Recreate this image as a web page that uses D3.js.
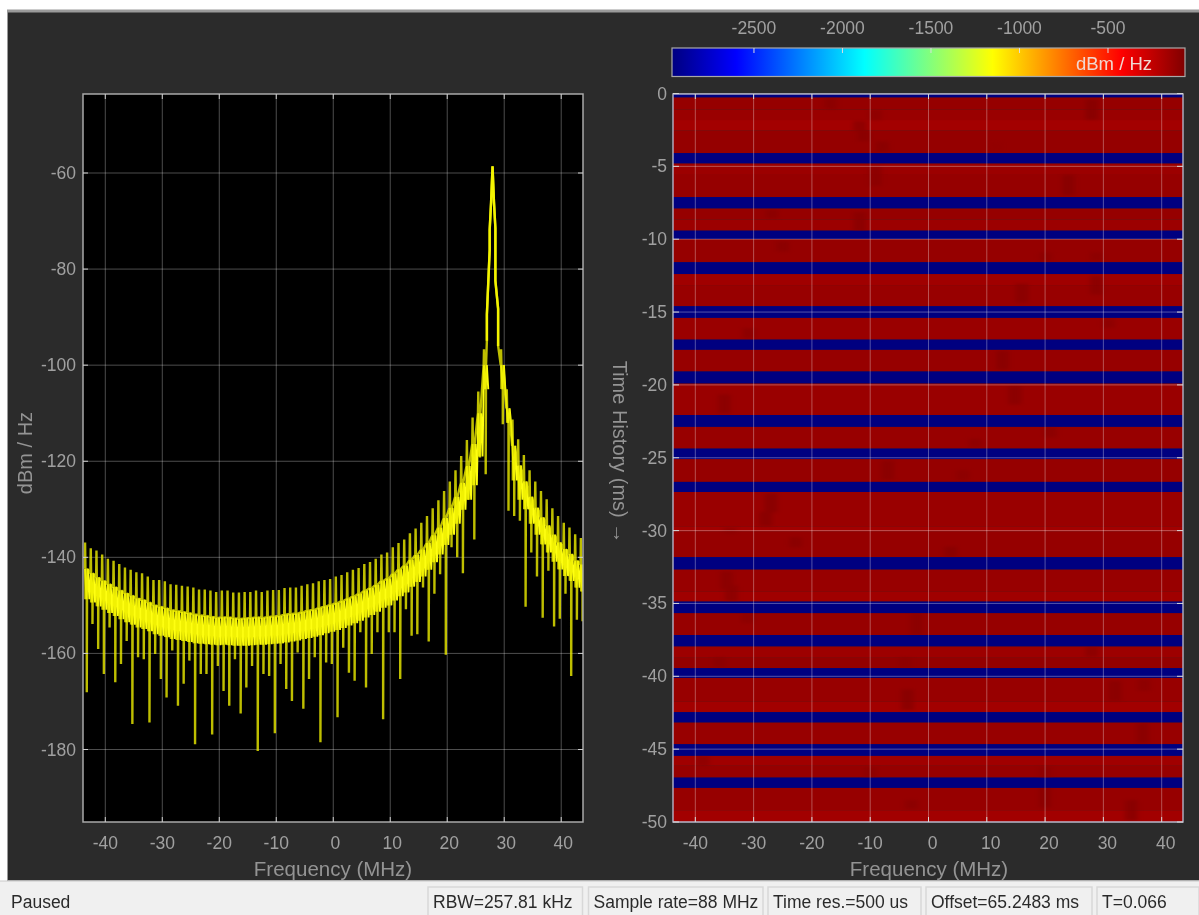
<!DOCTYPE html>
<html><head><meta charset="utf-8">
<script src="https://cdn.jsdelivr.net/npm/d3@7/dist/d3.min.js"></script>
<style>
html,body{margin:0;padding:0;background:#fff;overflow:hidden}
svg{display:block;filter:blur(.5px)}
text{font-family:"Liberation Sans",Arial,sans-serif}
</style></head><body>
<svg id="c" width="1199" height="915"></svg>
<script>
const freqTicks=[-40,-30,-20,-10,0,10,20,30,40];
const powerTicks=[-60,-80,-100,-120,-140,-160,-180];
const timeTicks=[0,-5,-10,-15,-20,-25,-30,-35,-40,-45,-50];
const colorTicks=[-2500,-2000,-1500,-1000,-500];
const statusLabels=["RBW=257.81 kHz","Sample rate=88 MHz","Time res.=500 us","Offset=65.2483 ms","T=0.066"];
const statusLeft=[428,588.5,768,926,1097];
const statusRight=[582.5,763,921,1092,1199];

// spectrum comb (MHz)
const combFreq=[-43.55,-42.55,-41.55,-40.55,-39.55,-38.55,-37.55,-36.55,-35.55,-34.55,-33.55,-32.55,-31.55,-30.55,-29.55,-28.55,-27.55,-26.55,-25.55,-24.55,-23.55,-22.55,-21.55,-20.55,-19.55,-18.55,-17.55,-16.55,-15.55,-14.55,-13.55,-12.55,-11.55,-10.55,-9.55,-8.55,-7.55,-6.55,-5.55,-4.55,-3.55,-2.55,-1.55,-0.55,0.45,1.45,2.45,3.45,4.45,5.45,6.45,7.45,8.45,9.45,10.45,11.45,12.45,13.45,14.45,15.45,16.45,17.45,18.45,19.45,20.45,21.45,22.45,23.45,24.45,25.45,26.45,27.45,28.45,29.45,30.45,31.45,32.45,33.45,34.45,35.45,36.45,37.45,38.45,39.45,40.45,41.45,42.45,43.45];
const combTop=[-136.9,-138.1,-138.6,-139.4,-140.3,-140.7,-141.4,-142.1,-142.6,-143.1,-143.3,-144,-144.7,-144.7,-145,-145.6,-145.7,-145.9,-146.1,-146.3,-146.7,-146.7,-146.9,-147.2,-146.9,-146.9,-147.3,-147.3,-147.2,-147.2,-146.9,-147.2,-146.9,-146.8,-146.8,-146.4,-146.3,-146.3,-145.9,-145.6,-145.4,-145,-144.7,-144.5,-144,-143.7,-143.1,-142.6,-142.2,-141.4,-141,-140.3,-139.4,-139,-137.9,-137,-136.3,-135,-134,-132.8,-131.4,-129.8,-128.1,-126.2,-124.2,-121.9,-118.9,-115.6,-110.9,-105.5,-96.7,-71.8,-71.5,-96.7,-105,-111.3,-115.4,-118.7,-121.9,-124.2,-126.2,-127.9,-129.8,-131.4,-132.8,-133.8,-135.2,-136];
const bandHigh=[-142.4,-143.3,-144.2,-144.9,-145.6,-146.2,-146.9,-147.5,-148,-148.6,-148.9,-149.4,-150,-150.3,-150.6,-151,-151.2,-151.4,-151.6,-151.9,-152.1,-152.2,-152.4,-152.6,-152.5,-152.5,-152.7,-152.8,-152.7,-152.6,-152.5,-152.6,-152.4,-152.3,-152.2,-151.9,-151.8,-151.7,-151.4,-151.1,-150.9,-150.5,-150.2,-149.9,-149.5,-149.1,-148.6,-148.1,-147.6,-146.9,-146.4,-145.7,-144.9,-144.4,-143.4,-142.5,-141.7,-140.5,-139.5,-138.4,-137,-135.4,-133.8,-131.8,-129.7,-127.4,-124.5,-121,-116.4,-110,-100,-76,-76,-100,-109,-116.8,-120.9,-124.2,-127.4,-129.7,-131.7,-133.4,-135.3,-136.9,-138.3,-139.3,-140.7,-141.5];
const bandLow=[-148.7,-149.4,-150.2,-150.9,-151.6,-152.2,-152.9,-153.5,-154,-154.6,-154.9,-155.4,-156,-156.3,-156.6,-157,-157.2,-157.4,-157.6,-157.9,-158,-158.1,-158.2,-158.3,-158.2,-158.3,-158.4,-158.4,-158.4,-158.3,-158.2,-158.2,-158.1,-158,-157.9,-157.7,-157.5,-157.3,-157,-156.8,-156.5,-156.2,-155.8,-155.5,-155.1,-154.7,-154.2,-153.7,-153.2,-152.5,-152,-151.3,-150.5,-150,-149,-148.1,-147.3,-146.1,-145.1,-144,-142.6,-141,-139.4,-137.4,-135.3,-133,-130.1,-128,-125,-119,-105,-76,-80,-105,-112,-124,-128,-130,-133,-135.3,-137.3,-139,-140.9,-142.5,-143.9,-144.9,-146.3,-147.1];
const combDip=[-168.1,-153.9,-159.1,-164.3,-154.6,-166,-162.2,-157.4,-174.7,-160.8,-161.2,-174.4,-160.1,-165.3,-169.2,-159.4,-170.9,-166.3,-161.5,-178.9,-164.3,-164.3,-176.9,-162.6,-167.8,-170.9,-161.2,-172.5,-167.1,-162.6,-180.3,-164.3,-164.7,-176.6,-162.2,-167.4,-169.9,-159.8,-171.5,-165.3,-160.8,-178.5,-161.9,-162.2,-173.3,-158.8,-164,-165.7,-155.6,-167.1,-160.1,-155.6,-173.7,-155.6,-155.6,-165.3,-150.8,-156.3,-156,-146.3,-157.5,-147.6,-143.5,-160.3,-137.9,-140,-143.3,-128,-136.3,-119.2,-122.7,-76,-82.4,-112.3,-130.3,-131.4,-132.4,-150.3,-139,-144,-152.6,-142.8,-154.4,-152.8,-147.6,-164.7,-153,-153.3];
const lobeFreq=[26.96,26.96,27.45,27.45,27.7,27.95,28.2,28.45,28.45,28.93,28.93];
const lobePower=[-94.9,-89.4,-76,-71.8,-66,-58.6,-66,-71.5,-82.4,-88.3,-96];

// waterfall rows: end time (ms) and level (dBm/Hz); -2963 = empty trace
const rowEnd=[0.26,1.09,1.82,2.55,4.10,4.79,5.59,7.12,7.88,8.64,9.42,9.99,11.59,12.39,13.15,14.61,15.39,16.90,17.58,19.09,19.89,22.07,22.87,24.38,25.09,26.66,27.35,29.74,30.08,31.83,32.66,34.2,34.88,35.66,37.17,37.94,38.73,39.45,40.10,41.75,42.47,43.16,44.67,45.45,46.14,46.96,47.65,49.19,50];
const rowLevel=[-2963,-129,-140,-166,-124,-2963,-146,-129,-2963,-129,-146,-2963,-129,-2963,-155,-134,-2963,-138,-2963,-132,-2963,-138,-2963,-134,-2963,-128,-2963,-140,-166,-129,-2963,-134,-155,-2963,-132,-2963,-148,-120,-2963,-134,-163,-2963,-134,-2963,-157,-127,-2963,-130,-163];
// stronger spots in the waterfall
const spotFreq=[-16.8,-9.1,28,-11.8,-11.1,-7.9,11.6,-9.1,24,-26.9,-11.8,-25,20.1,28.8,28.8,16,30.9,-30.8,12.7,14.8,-35,20.9,8,-7,5.9,-27,-27.9,-34,-22.8,3.8,-34.6,-33.8,-31,-2,-35.8,-4,28,32,37,-3.6,36.7,-38.7,-10,20,20,-2.9,34.8];
const spotTime=[0.68,1.48,1.1,2.23,2.92,3.65,3.65,5.66,6.28,8.27,8.8,10.5,11.2,11.2,13.15,13.7,15.78,16.46,18.3,20.7,21.3,23.26,24,25.85,26.2,28.1,29.2,30,30.8,31.45,33.4,34.3,36,36.4,39.05,39.05,38.3,41,40.6,41.6,43.9,45.8,46.6,46.6,48.3,48.8,49.2];
const spotSpan=[0.8,0.7,1.4,0.7,0.7,0.7,0.6,1.4,1.4,0.6,1.3,0.7,0.6,0.6,1.3,1.3,0.6,0.7,1.3,1.3,1.3,0.7,0.6,1.3,0.7,1.3,1.0,0.4,0.7,0.7,1.2,1.1,0.7,1.5,0.7,0.7,0.7,1.4,0.8,1.4,1.4,0.7,0.7,0.8,1.4,0.6,1.4];
const spotLevel=[-90,-100,-75,-90,-88,-85,-118,-92,-80,-92,-85,-90,-95,-95,-85,-85,-95,-90,-82,-85,-88,-90,-95,-85,-95,-78,-80,-95,-85,-82,-88,-88,-95,-88,-90,-95,-90,-85,-95,-80,-88,-95,-95,-100,-90,-90,-78];

const svg=d3.select("#c");
const tickColor="#a0a0a0", titleColor="#949494", lineColor="#a9a9a9";
svg.append("rect").attr("width",1199).attr("height",915).attr("fill","#fff");
svg.append("rect").attr("x",7).attr("y",9.5).attr("width",1192).attr("height",872).attr("fill","#9a9a9a");
svg.append("rect").attr("x",8).attr("y",12.5).attr("width",1191).attr("height",867.5).attr("fill","#2b2b2b");
svg.append("rect").attr("x",0).attr("y",881).attr("width",1199).attr("height",34).attr("fill","#f0f0f0");

const defs=svg.append("defs");
defs.append("clipPath").attr("id","cl").append("rect").attr("x",83).attr("y",94).attr("width",500).attr("height",728);
defs.append("clipPath").attr("id","cr").append("rect").attr("x",673).attr("y",94).attr("width",510).attr("height",728);
defs.append("filter").attr("id","soft").attr("x","-100%").attr("y","-100%").attr("width","300%").attr("height","300%")
  .append("feGaussianBlur").attr("stdDeviation","2.6 1.8");

// ---------- left: spectrum
const xL=d3.scaleLinear().domain([-44,44]).range([82.5,584]);
const yL=d3.scaleLinear().domain([-60,-180]).range([173,749.5]);
svg.append("rect").attr("x",83).attr("y",94).attr("width",500).attr("height",728).attr("fill","#000");
const gl=svg.append("g").attr("stroke","#fff").attr("stroke-opacity",.3).attr("stroke-width",1);
gl.selectAll(".v").data(freqTicks).join("line").attr("x1",d=>xL(d)).attr("x2",d=>xL(d)).attr("y1",94).attr("y2",822);
gl.selectAll(".h").data(powerTicks).join("line").attr("y1",d=>yL(d)).attr("y2",d=>yL(d)).attr("x1",83).attr("x2",583);

const spike=[], zigLeft=[], zigRight=[];
combFreq.forEach((f,i)=>{
  if(f===27.45){ lobeFreq.forEach((g,j)=>spike.push([g,lobePower[j]])); return; }
  if(f===28.45) return;
  spike.push([f-.06,bandHigh[i]],[f,combTop[i]],[f+.06,bandHigh[i]],[f+.06,bandLow[i]],[f+.3,bandHigh[i]],[f+.3,combDip[i]],[f+.36,bandHigh[i]]);
  (f<27.45?zigLeft:zigRight).push([f,bandHigh[i]],[f+.25,bandLow[i]],[f+.5,bandHigh[i]],[f+.75,bandLow[i]]);
});
const line=d3.line().x(d=>xL(d[0])).y(d=>yL(d[1]));
const plot=svg.append("g").attr("clip-path","url(#cl)");
[zigLeft,zigRight].forEach(z=>plot.append("path").attr("d",line(z)).attr("fill","none").attr("stroke","#ffff10").attr("stroke-width",1.9));
plot.append("path").attr("d",line(spike)).attr("fill","none").attr("stroke","#eeee00").attr("stroke-width",2.4).attr("stroke-opacity",.8).attr("stroke-linejoin","bevel");
plot.append("path").attr("d",line(lobeFreq.map((f,i)=>[f,lobePower[i]]))).attr("fill","none").attr("stroke","#f4f400").attr("stroke-width",2.4).attr("stroke-linejoin","bevel");

svg.append("rect").attr("x",83).attr("y",94).attr("width",500).attr("height",728).attr("fill","none").attr("stroke",lineColor).attr("stroke-width",1.5);
const lt=svg.append("g").attr("stroke","#cfcfcf").attr("stroke-width",1);
freqTicks.forEach(d=>{lt.append("line").attr("x1",xL(d)).attr("x2",xL(d)).attr("y1",94).attr("y2",99);lt.append("line").attr("x1",xL(d)).attr("x2",xL(d)).attr("y1",822).attr("y2",817);});
powerTicks.forEach(d=>{lt.append("line").attr("y1",yL(d)).attr("y2",yL(d)).attr("x1",83).attr("x2",88);lt.append("line").attr("y1",yL(d)).attr("y2",yL(d)).attr("x1",583).attr("x2",578);});

function label(x,y,s,anchor,size,fill,rot){
  const t=svg.append("text").attr("x",x).attr("y",y).attr("text-anchor",anchor||"middle").attr("dominant-baseline","central")
    .attr("font-size",size||17.5).attr("fill",fill||tickColor).text(s);
  if(rot) t.attr("transform",`rotate(${rot} ${x} ${y})`);
  return t;
}
freqTicks.forEach(d=>label(xL(d)+(d>=0?2:0),843,d));
powerTicks.forEach(d=>label(76,yL(d),d,"end"));
label(333,868,"Frequency (MHz)","middle",20.5,titleColor);
label(25,453,"dBm / Hz","middle",20,titleColor,-90);

// ---------- right: waterfall
const xR=d3.scaleLinear().domain([-44,44]).range([672,1185]);
const yR=d3.scaleLinear().domain([0,-50]).range([93.5,822]);
const jet=d3.scaleLinear().domain([0,.125,.375,.625,.875,1]).range(["#000080","#0000ff","#00ffff","#ffff00","#ff0000","#800000"]);
const color=d3.scaleLinear().domain([-2963,-65]).range([0,1]);
const heat=v=>jet(color(v));
const wf=svg.append("g").attr("clip-path","url(#cr)");
const rowSpan=rowEnd.map((d,i)=>[i?rowEnd[i-1]:0,d,rowLevel[i]]);
wf.selectAll(".row").data(rowSpan).join("rect")
  .attr("x",673).attr("width",510)
  .attr("y",d=>yR(-d[0])).attr("height",d=>yR(-d[1])-yR(-d[0]))
  .attr("fill",d=>heat(d[2]));
const spots=wf.append("g").attr("filter","url(#soft)").attr("opacity",.72);
spotFreq.forEach((f,i)=>spots.append("rect")
  .attr("x",xR(f-1.1)).attr("width",xR(1.1)-xR(-1.1))
  .attr("y",yR(-(spotTime[i]-spotSpan[i]/2))).attr("height",yR(-spotSpan[i])-yR(0))
  .attr("fill",heat(spotLevel[i])));
// empty rows stay crisp over the spots
wf.selectAll(".blue").data(rowSpan.filter(d=>d[2]===-2963)).join("rect")
  .attr("x",673).attr("width",510)
  .attr("y",d=>yR(-d[0])).attr("height",d=>yR(-d[1])-yR(-d[0]))
  .attr("fill",heat(-2963));
const gr=svg.append("g").attr("stroke","#fff").attr("stroke-opacity",.32).attr("stroke-width",1);
gr.selectAll(".v").data(freqTicks).join("line").attr("x1",d=>xR(d)).attr("x2",d=>xR(d)).attr("y1",94).attr("y2",822);
gr.selectAll(".h").data(timeTicks).join("line").attr("y1",d=>yR(d)).attr("y2",d=>yR(d)).attr("x1",673).attr("x2",1183);
svg.append("rect").attr("x",673).attr("y",94).attr("width",510).attr("height",728).attr("fill","none").attr("stroke","#b4b4c8").attr("stroke-width",1.4);
const rt=svg.append("g").attr("stroke","#d8d8d8").attr("stroke-width",1);
freqTicks.forEach(d=>{rt.append("line").attr("x1",xR(d)).attr("x2",xR(d)).attr("y1",94).attr("y2",99);rt.append("line").attr("x1",xR(d)).attr("x2",xR(d)).attr("y1",822).attr("y2",817);});
timeTicks.forEach(d=>{rt.append("line").attr("y1",yR(d)).attr("y2",yR(d)).attr("x1",673).attr("x2",679);rt.append("line").attr("y1",yR(d)).attr("y2",yR(d)).attr("x1",1183).attr("x2",1177);});
freqTicks.forEach(d=>label(xR(d)+(d>=0?4:0),843,d));
timeTicks.forEach(d=>label(667,yR(d),d,"end"));
label(929,868,"Frequency (MHz)","middle",20.5,titleColor);
label(620,452,"Time History (ms) \u2192","middle",20,titleColor,90);

// ---------- colour bar
const cb=d3.scaleLinear().domain([-2963,-65]).range([672,1185]);
const grad=defs.append("linearGradient").attr("id","jet");
[0,.125,.375,.625,.875,1].forEach(t=>grad.append("stop").attr("offset",t).attr("stop-color",jet(t)));
svg.append("rect").attr("x",672).attr("y",48).attr("width",513).attr("height",28.5).attr("fill","url(#jet)").attr("stroke",lineColor).attr("stroke-width",1.2);
colorTicks.forEach(d=>{
  svg.append("line").attr("x1",cb(d)).attr("x2",cb(d)).attr("y1",48).attr("y2",53).attr("stroke","#ddd").attr("stroke-width",1);
  label(cb(d),28,d);
});
label(1114,63,"dBm / Hz","middle",18.5,"#f0d8d0");

// ---------- status bar
svg.append("line").attr("x1",0).attr("x2",1199).attr("y1",881).attr("y2",881).attr("stroke","#c8c8c8");
statusLabels.forEach((s,i)=>{
  svg.append("rect").attr("x",statusLeft[i]).attr("y",887).attr("width",statusRight[i]-statusLeft[i]).attr("height",30)
    .attr("fill","none").attr("stroke","#d8d8d8").attr("stroke-width",1.5);
  svg.append("text").attr("x",statusLeft[i]+5).attr("y",902).attr("dominant-baseline","central")
    .attr("font-size",17.5).attr("fill","#2a2a2a").text(s);
});
svg.append("text").attr("x",11).attr("y",902).attr("dominant-baseline","central").attr("font-size",17.5).attr("fill","#2a2a2a").text("Paused");
</script></body></html>
